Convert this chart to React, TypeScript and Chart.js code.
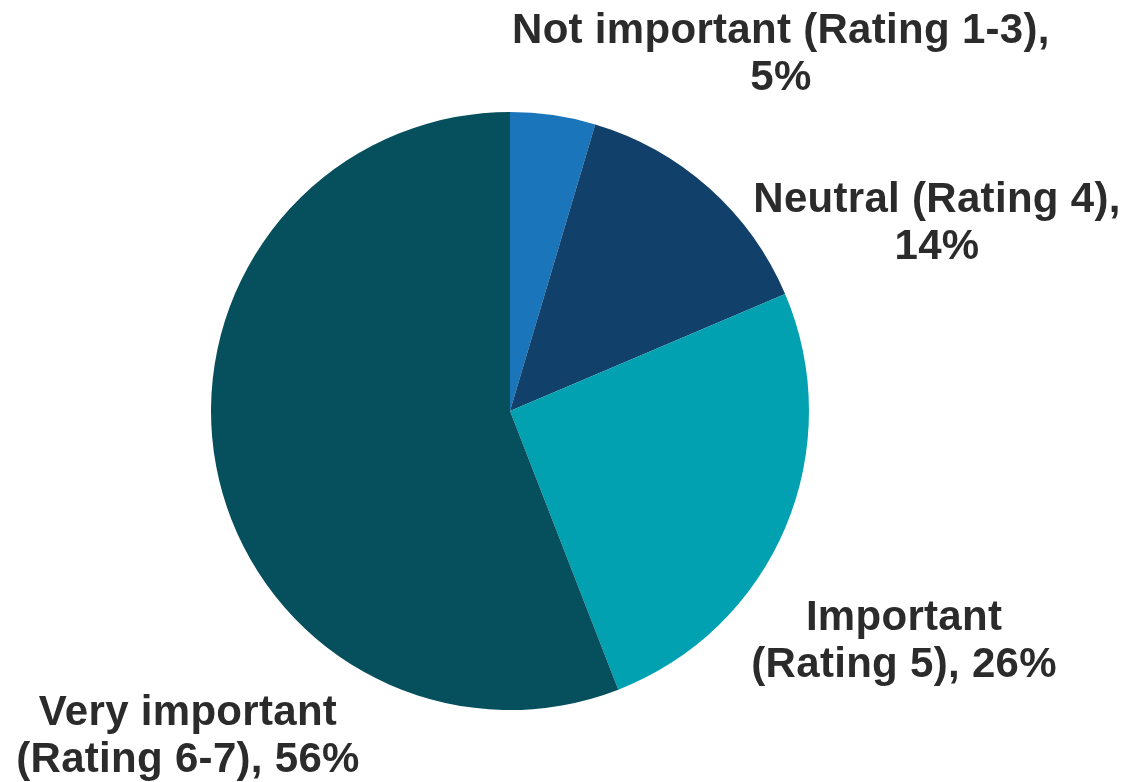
import React, { useEffect, useRef } from "react";
import { Chart, registerables } from "chart.js";

Chart.register(...registerables);

const categories = [
  "Not important (Rating 1-3)",
  "Neutral (Rating 4)",
  "Important (Rating 5)",
  "Very important (Rating 6-7)",
];
const shares = [4.6, 14.0, 25.5, 55.9];
const percentLabels = ["5%", "14%", "26%", "56%"];
const sliceColors = ["#1B75BB", "#11416B", "#02A1B2", "#06505D"];

// label placement relative to pie center, in units of the radius (x: line center, y: first baseline)
const labelLayout = [
  { dx: 0.906, dy: -1.232, maxWidth: 580 },
  { dx: 1.428, dy: -0.664, maxWidth: 400 },
  { dx: 1.318, dy: 0.732, maxWidth: 330 },
  { dx: -1.077, dy: 1.050, maxWidth: 370 },
];

const FONT = "bold 42px 'Liberation Sans', Arial, sans-serif";
const LINE_H = 47;
const TEXT_COLOR = "#2B2B2B";

function wrap(ctx: CanvasRenderingContext2D, text: string, maxWidth: number): string[] {
  const words = text.split(" ");
  const lines: string[] = [];
  let cur = "";
  for (const w of words) {
    const test = cur ? cur + " " + w : w;
    if (cur && ctx.measureText(test).width > maxWidth) {
      lines.push(cur);
      cur = w;
    } else {
      cur = test;
    }
  }
  if (cur) lines.push(cur);
  return lines;
}

const labelPlugin = {
  id: "sliceLabels",
  afterDraw(chart: any) {
    const meta = chart.getDatasetMeta(0);
    const ctx: CanvasRenderingContext2D = chart.ctx;
    ctx.save();
    ctx.font = FONT;
    try {
      (ctx as any).letterSpacing = "0.3px";
    } catch (e) {}
    ctx.fillStyle = TEXT_COLOR;
    ctx.textAlign = "center";
    ctx.textBaseline = "alphabetic";
    meta.data.forEach((arc: any, i: number) => {
      const lay = labelLayout[i];
      const r = arc.outerRadius;
      const cx = arc.x + lay.dx * r;
      const cy = arc.y + lay.dy * r;
      const text = `${categories[i]}, ${percentLabels[i]}`;
      const lines = wrap(ctx, text, lay.maxWidth);
      lines.forEach((ln, k) => ctx.fillText(ln, cx, cy + k * LINE_H));
    });
    ctx.restore();
  },
};

export default function App() {
  const canvasRef = useRef<HTMLCanvasElement | null>(null);
  useEffect(() => {
    if (!canvasRef.current) return;
    const chart = new Chart(canvasRef.current, {
      type: "pie",
      data: {
        labels: categories,
        datasets: [
          {
            data: shares,
            backgroundColor: sliceColors,
            borderWidth: 0,
          },
        ],
      },
      options: {
        responsive: true,
        maintainAspectRatio: false,
        animation: false,
        layout: { padding: { left: 211, right: 318, top: 112, bottom: 72 } },
        plugins: {
          legend: { display: false },
          tooltip: { enabled: false },
        },
      },
      plugins: [labelPlugin],
    });
    return () => chart.destroy();
  }, []);
  return (
    <div style={{ position: "fixed", left: 0, top: 0, width: 1127, height: 782, background: "#fff" }}>
      <canvas ref={canvasRef} />
    </div>
  );
}
